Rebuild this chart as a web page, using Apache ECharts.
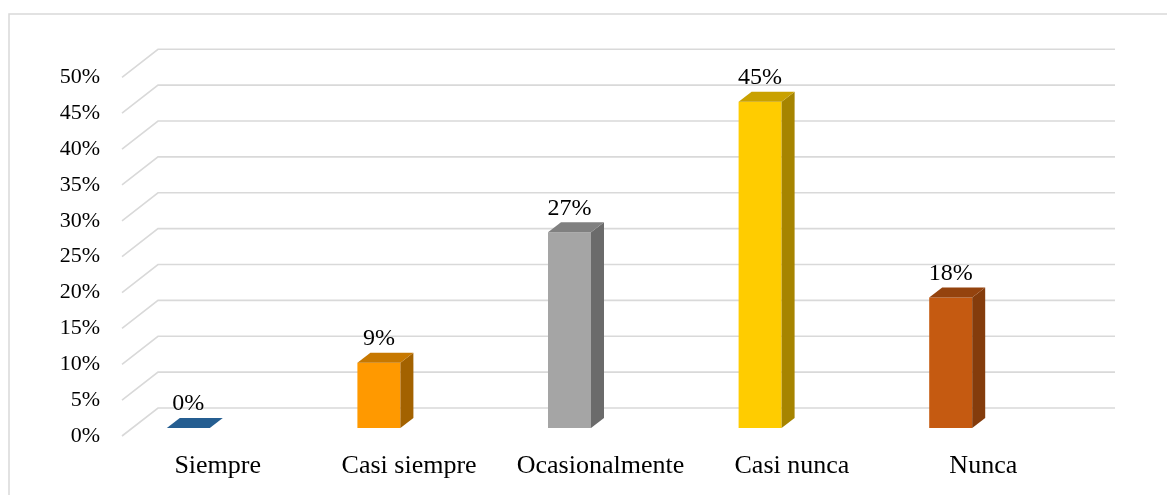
<!DOCTYPE html>
<html>
<head>
<meta charset="utf-8">
<script src="https://cdn.jsdelivr.net/npm/echarts@6/dist/echarts.min.js"></script>
<style>
  html, body { margin: 0; padding: 0; background: #fff; }
  #chart { width: 1167px; height: 495px; }
</style>
</head>
<body>
<div id="chart"></div>
<script>
// datos del grafico
const categorias = ['Siempre', 'Casi siempre', 'Ocasionalmente', 'Casi nunca', 'Nunca'];
const valores = [0, 9, 27, 45, 18];
const ticks = [0, 5, 10, 15, 20, 25, 30, 35, 40, 45, 50];

// colores: frente, lado, tapa
const colores = [
  ['#5b9bd5', '#1f4e79', '#255e91'],
  ['#ff9900', '#a36200', '#c77800'],
  ['#a5a5a5', '#6b6b6b', '#808080'],
  ['#ffcc00', '#a68400', '#c9a100'],
  ['#c55a11', '#843c0c', '#94430e']
];

const fuente = 'Liberation Serif, Times New Roman, serif';
const DX = 13, DY = 10, ANCHO = 43;   // profundidad de barra
const PX = 36, PY = 28;               // profundidad de la pared

const chart = echarts.init(document.getElementById('chart'));

chart.setOption({
  animation: false,
  graphic: [{
    type: 'rect',
    shape: { x: 9, y: 14, width: 1200, height: 520 },
    style: { fill: 'none', stroke: '#d9d9d9', lineWidth: 1.5 },
    silent: true
  }],
  grid: [
    // plano frontal (ejes)
    { left: 122, right: 88, top: 77.3, bottom: 59 },
    // plano de las barras
    { left: 93, right: 121, top: 65.5, bottom: 67 }
  ],
  xAxis: [
    {
      gridIndex: 0, type: 'category', data: categorias,
      axisLine: { show: false }, axisTick: { show: false },
      axisLabel: { interval: 0, fontFamily: fuente, fontSize: 26, color: '#000', margin: 17 }
    },
    { gridIndex: 1, type: 'category', data: categorias, show: false }
  ],
  yAxis: [
    {
      gridIndex: 0, type: 'value', min: 0, max: 50, interval: 5,
      axisLine: { show: false }, axisTick: { show: false }, splitLine: { show: false },
      axisLabel: { fontFamily: fuente, fontSize: 22, color: '#000', margin: 22, formatter: '{value}%' }
    },
    { gridIndex: 1, type: 'value', min: 0, max: 50, show: false, splitLine: { show: false } }
  ],
  series: [
    {
      // lineas de division en perspectiva
      type: 'custom',
      xAxisIndex: 0, yAxisIndex: 0,
      silent: true,
      data: ticks.map(t => [0, t]),
      renderItem: function (params, api) {
        const cs = params.coordSys;
        const y = api.coord([0, api.value(1)])[1];
        return {
          type: 'polyline',
          shape: { points: [[cs.x, y], [cs.x + PX, y - PY], [cs.x + cs.width + PX, y - PY]] },
          style: { stroke: '#d9d9d9', lineWidth: 1.6, fill: null }
        };
      }
    },
    {
      // barras 3D
      type: 'custom',
      xAxisIndex: 1, yAxisIndex: 1,
      data: valores.map((v, i) => [i, v]),
      renderItem: function (params, api) {
        const i = api.value(0), v = api.value(1);
        const base = api.coord([i, 0]);
        const top = api.coord([i, v]);
        const xl = base[0] - ANCHO / 2, xr = xl + ANCHO;
        const y0 = base[1], y1 = top[1];
        const c = colores[i];
        const children = [];
        if (v > 0) {
          children.push({
            type: 'rect', shape: { x: xl, y: y1, width: ANCHO, height: y0 - y1 },
            style: { fill: c[0] }
          });
          children.push({
            type: 'polygon',
            shape: { points: [[xr, y1], [xr + DX, y1 - DY], [xr + DX, y0 - DY], [xr, y0]] },
            style: { fill: c[1] }
          });
        }
        children.push({
          type: 'polygon',
          shape: { points: [[xl, y1], [xl + DX, y1 - DY], [xr + DX, y1 - DY], [xr, y1]] },
          style: { fill: c[2] }
        });
        children.push({
          type: 'text',
          style: {
            text: v + '%', x: base[0], y: y1 - 12,
            align: 'center', verticalAlign: 'bottom',
            font: '24px ' + fuente, fill: '#000'
          }
        });
        return { type: 'group', children: children };
      }
    }
  ]
});
</script>
</body>
</html>
